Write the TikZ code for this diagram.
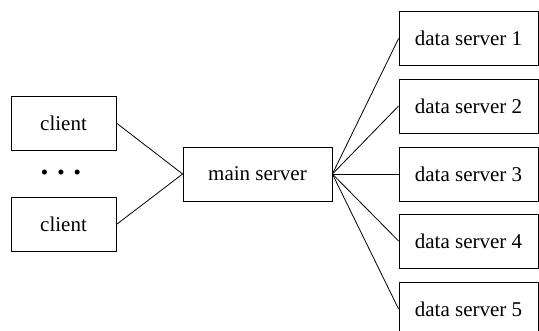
\documentclass[tikz,border=0pt]{standalone}
\usepackage{fontspec}
\setmainfont{Liberation Serif}
\usetikzlibrary{positioning}
\tikzset{%
	box/.style    = {draw, rectangle, line width=0.8pt, minimum height=54pt, inner sep=0pt, text centered, font=\fontsize{21}{25}\selectfont},
	clientbox/.style = {box, minimum width=105pt},
	mainbox/.style   = {box, minimum width=149pt},
	databox/.style   = {box, minimum width=139pt},
	link/.style   = {line width=0.8pt},
}
\begin{document}
\begin{tikzpicture}[x=1pt,y=-1pt]
		\useasboundingbox (0,0) rectangle (539,331);
		\node[clientbox] (client1) at (63.5,123) {client};
		\node[clientbox] (client2) at (63.5,224.5) {client};
		\node[font=\fontsize{21}{25}\selectfont] (dots) at (61,175) {\textbullet\hspace{9pt}\textbullet\hspace{9pt}\textbullet};
		\node[mainbox] (main) at (257.5,174) {main server};
		\foreach \i/\y in {1/38.5,2/106,3/174,4/241,5/309}
			\node[databox] (ds\i) at (468.5,\y) {data server \i};
		\draw[link] (client1.east) -- (main.west);
		\draw[link] (client2.east) -- (main.west);
		\foreach \i in {1,...,5}
			\draw[link] (main.east) -- (ds\i.west);
	\end{tikzpicture}
\end{document}
